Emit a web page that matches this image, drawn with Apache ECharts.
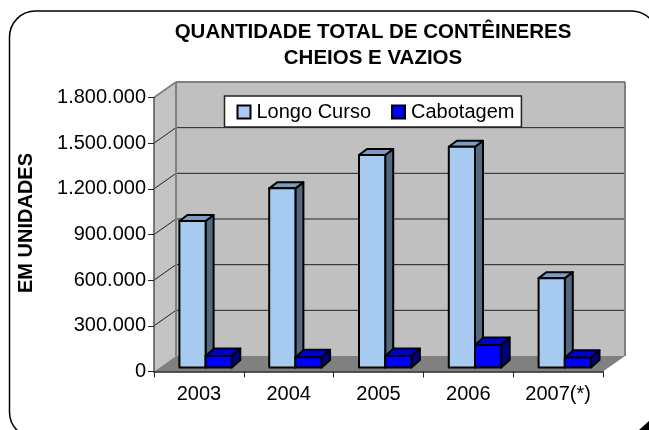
<!DOCTYPE html>
<html>
<head>
<meta charset="utf-8">
<style>html,body{margin:0;padding:0;background:#fff;overflow:hidden}#c{width:649px;height:430px}</style>
<script src="https://cdn.jsdelivr.net/npm/echarts@6/dist/echarts.min.js"></script>
</head>
<body>
<div id="c"></div>
<script>
const categories = ['2003', '2004', '2005', '2006', '2007(*)'];
const longoCurso = [962000, 1177000, 1396000, 1450000, 587000];
const cabotagem = [75000, 67000, 75000, 148000, 64000];
const yTicks = [0, 300000, 600000, 900000, 1200000, 1500000, 1800000];

const FONT = '"Liberation Sans", Arial, sans-serif';
const WALL = [22, -15.5];      // 3D wall offset
const BASE_LIFT = 4;           // bars stand slightly behind the front edge of the floor
const BAR_W = 26.2 / 89.8;     // bar width as share of a category band
const BAR_START = 25.4 / 89.8; // first bar's left edge as share of a band

function poly(points, fill, stroke, w) {
  return { type: 'polygon', shape: { points }, style: { fill, stroke: stroke || 'none', lineWidth: w || 0, lineJoin: 'round' } };
}
function line(a, b, stroke, w) {
  return { type: 'line', shape: { x1: a[0], y1: a[1], x2: b[0], y2: b[1] }, style: { stroke, lineWidth: w } };
}

function renderWall(params, api) {
  const cs = params.coordSys;
  const x0 = cs.x, x1 = cs.x + cs.width;
  const yAt = v => api.coord([0, v])[1];
  const yB = yAt(0), yT = yAt(1800000);
  const [dx, dy] = WALL;
  const children = [
    poly([[x0 + dx, yT + dy], [x1 + dx, yT + dy], [x1 + dx, yB + dy], [x0 + dx, yB + dy]], '#c0c0c0'),
    poly([[x0, yT], [x0 + dx, yT + dy], [x0 + dx, yB + dy], [x0, yB]], '#c4c4c4'),
    poly([[x0, yB], [x1, yB], [x1 + dx, yB + dy], [x0 + dx, yB + dy]], '#808080')
  ];
  yTicks.forEach(v => {
    if (v === 0 || v === 1800000) return;
    const y = yAt(v);
    children.push(line([x0 + dx, y + dy], [x1 + dx, y + dy], '#222', 1));
    children.push(line([x0, y], [x0 + dx, y + dy], '#222', 1));
  });
  children.push(line([x0, yT], [x0 + dx, yT + dy], '#808080', 2));
  children.push(line([x0 + dx, yT + dy], [x1 + dx, yT + dy], '#808080', 2));
  children.push(line([x0 + dx, yT + dy], [x0 + dx, yB + dy], '#808080', 2));
  children.push(line([x1 + dx, yT + dy], [x1 + dx, yB + dy], '#808080', 2));
  return { type: 'group', children };
}

function barRenderer(slot, front, top, side, depth) {
  return function (params, api) {
    const band = api.size([1, 0])[0];
    const c = api.coord([api.value(0), api.value(1)]);
    const base = api.coord([api.value(0), 0]);
    const w = band * BAR_W;
    const l = c[0] - band / 2 + band * BAR_START + slot * w;
    const r = l + w;
    const t = c[1] - BASE_LIFT, b = base[1] - BASE_LIFT;
    const [dx, dy] = depth;
    return {
      type: 'group',
      children: [
        poly([[r, t], [r + dx, t + dy], [r + dx, b + dy], [r, b]], side, '#000', 2),
        poly([[l, t], [l + dx, t + dy], [r + dx, t + dy], [r, t]], top, '#000', 2),
        poly([[l, t], [r, t], [r, b], [l, b]], front, '#000', 2)
      ]
    };
  };
}

const chart = echarts.init(document.getElementById('c'), null, { renderer: 'canvas' });
chart.setOption({
  animation: false,
  backgroundColor: '#fff',
  title: {
    text: 'QUANTIDADE TOTAL DE CONTÊINERES\nCHEIOS E VAZIOS',
    left: 368, top: 14, textAlign: 'center',
    textStyle: { fontFamily: FONT, fontWeight: 'bold', fontSize: 20.5, lineHeight: 26, color: '#000' }
  },
  grid: { left: 154, right: 46, top: 97.5, bottom: 58.5 },
  legend: {
    data: ['Longo Curso', 'Cabotagem'],
    left: 224.5, top: 96, orient: 'horizontal',
    backgroundColor: '#fff', borderColor: '#222', borderWidth: 1.5,
    padding: [6, 7, 5, 12],
    itemWidth: 13, itemHeight: 13, itemGap: 20,
    icon: 'rect',
    textStyle: { fontFamily: FONT, fontSize: 20, color: '#000', padding: [0, 0, 0, 1] }
  },
  xAxis: {
    type: 'category', data: categories, z: 5,
    axisLine: { lineStyle: { color: '#222', width: 1.5 } },
    axisTick: { show: true, alignWithLabel: false, length: 6, lineStyle: { color: '#222', width: 1 } },
    axisLabel: { fontFamily: FONT, fontSize: 20, color: '#000', margin: 13 }
  },
  yAxis: {
    type: 'value', min: 0, max: 1800000, interval: 300000, z: 5,
    axisLine: { show: true, lineStyle: { color: '#555', width: 1.5 } },
    axisTick: { show: true, length: 6, lineStyle: { color: '#222', width: 1 } },
    splitLine: { show: false },
    axisLabel: {
      fontFamily: FONT, fontSize: 20, color: '#000', margin: 8, padding: [2, 0, 0, 0],
      formatter: v => String(v).replace(/\B(?=(\d{3})+$)/g, '.')
    }
  },
  series: [
    { type: 'custom', name: 'wall', z: 1, silent: true, clip: false, data: [[0, 0]], encode: { x: 0, y: 1 }, renderItem: renderWall },
    {
      type: 'custom', name: 'Longo Curso', z: 2, clip: false,
      itemStyle: { color: '#a6caf0', borderColor: '#000', borderWidth: 2 },
      data: longoCurso.map((v, i) => [i, v]), encode: { x: 0, y: 1 },
      renderItem: barRenderer(0, '#a6caf0', '#7c9cc2', '#54687e', [8, -6])
    },
    {
      type: 'custom', name: 'Cabotagem', z: 3, clip: false,
      itemStyle: { color: '#0000ff', borderColor: '#000', borderWidth: 2 },
      data: cabotagem.map((v, i) => [i, v]), encode: { x: 0, y: 1 },
      renderItem: barRenderer(1, '#0000ff', '#0000cc', '#000080', [8.5, -7.5])
    }
  ],
  graphic: [
    { type: 'rect', z: 100, silent: true, shape: { x: 9.5, y: 11, width: 648, height: 427, r: 26 }, style: { fill: 'none', stroke: '#000', lineWidth: 1.5 } },
    { type: 'polygon', z: 100, silent: true, shape: { points: [[649, 421], [649, 430], [639, 430]] }, style: { fill: '#000' } },
    { type: 'text', z: 100, silent: true, x: 26, y: 223, rotation: Math.PI / 2,
      style: { text: 'EM UNIDADES', fontFamily: FONT, fontWeight: 'bold', fontSize: 20, fill: '#000', align: 'center', verticalAlign: 'middle' } }
  ]
});
</script>
</body>
</html>
